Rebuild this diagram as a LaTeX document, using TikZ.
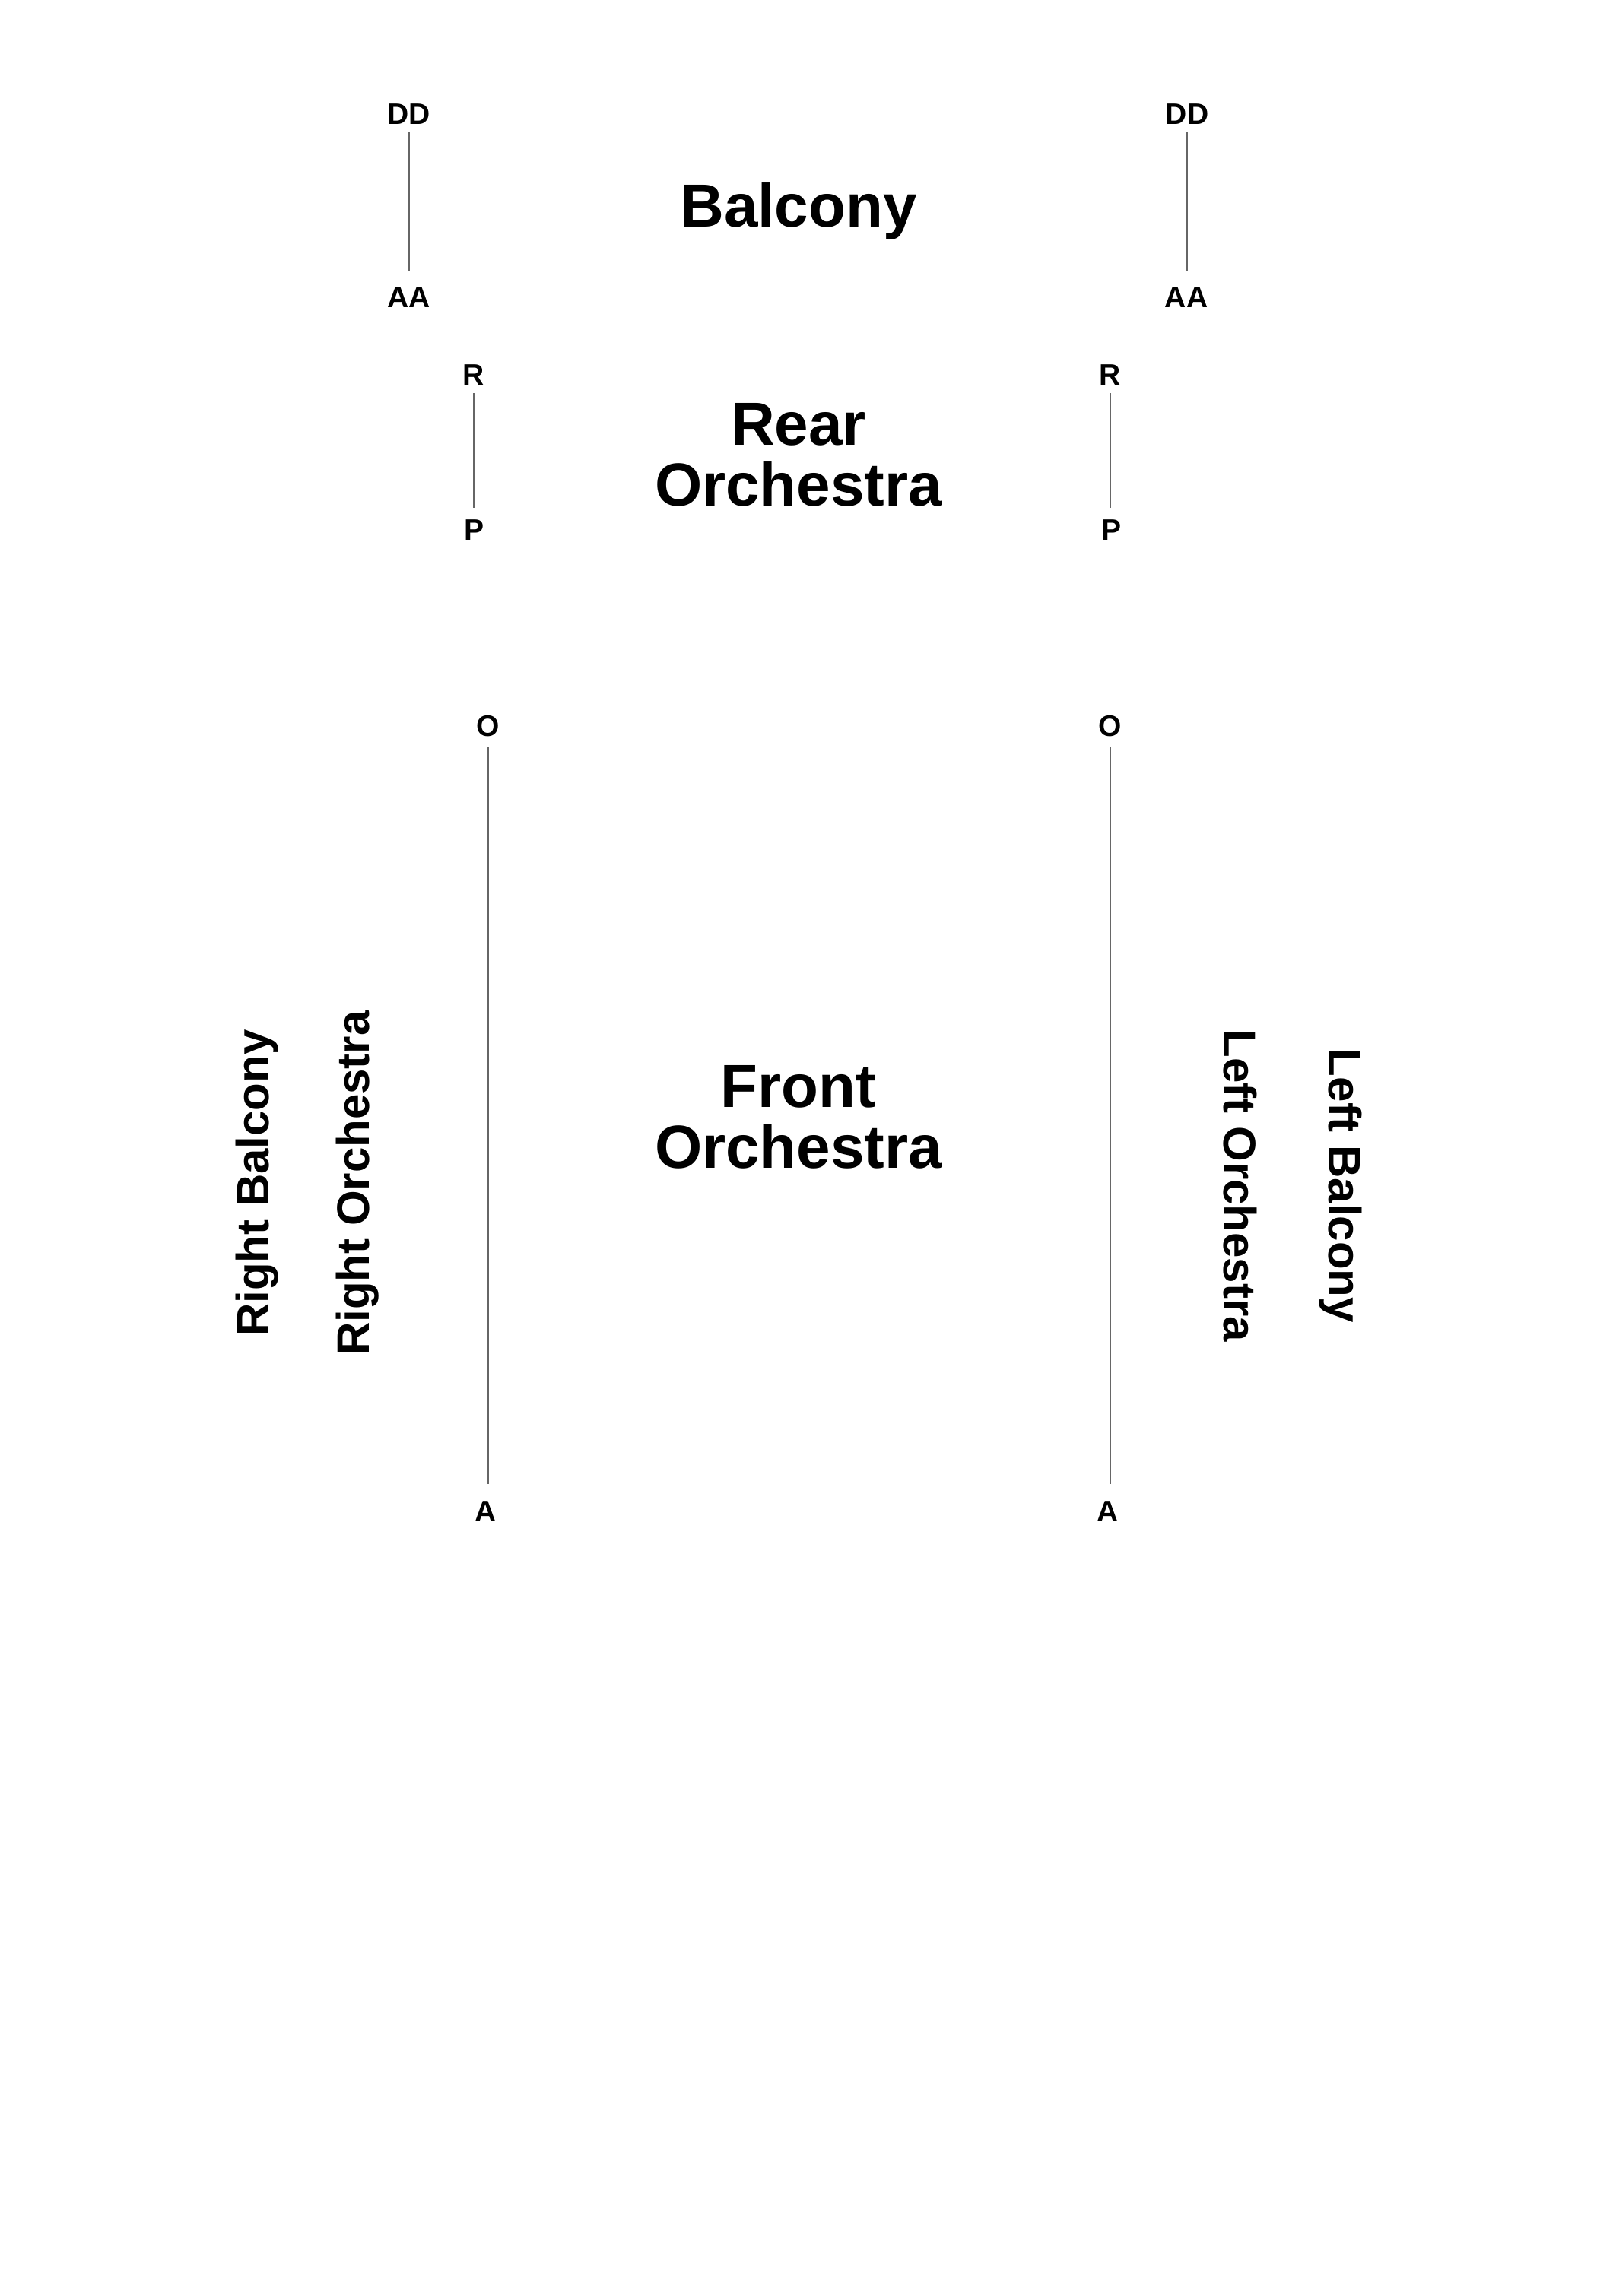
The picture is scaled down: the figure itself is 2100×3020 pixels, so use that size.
\documentclass[tikz,border=0pt]{standalone}
\usepackage{fontspec}
\setmainfont{Liberation Sans}
\begin{document}
\begin{tikzpicture}[x=1pt,y=-1pt,
  row/.style={font=\fontsize{39}{39}\selectfont\bfseries, inner sep=0pt, anchor=base},
  area/.style={font=\fontsize{80}{80}\selectfont\bfseries, inner sep=0pt, align=center, anchor=base},
  side/.style={font=\fontsize{60}{60}\selectfont\bfseries, inner sep=0pt},
  rowline/.style={line width=2pt, black!60}]
\useasboundingbox (0,0) rectangle (2100,3020);
% Balcony
\node[row] (DDl) at (538,163) {DD};
\node[row] (AAl) at (538,404) {AA};
\node[row] (DDr) at (1561,163) {DD};
\node[row] (AAr) at (1560,404) {AA};
\node[area] (balc) at (1050,298) {Balcony};
% Rear orchestra
\node[row] (Rl) at (623,506) {R};
\node[row] (Pl) at (623,710) {P};
\node[row] (Rr) at (1460,506) {R};
\node[row] (Pr) at (1461,710) {P};
\node[area] (rear) at (1050,665) {Rear\\Orchestra};
% Front orchestra
\node[row] (Ol) at (642,968) {O};
\node[row] (Al) at (639,2001) {A};
\node[row] (Or) at (1460,968) {O};
\node[row] (Ar) at (1457,2001) {A};
\node[area] (front) at (1050,1536) {Front\\Orchestra};
% side labels
\node[side, rotate=90] (rb) at (338,1556) {Right Balcony};
\node[side, rotate=90] (ro) at (470,1556) {Right Orchestra};
\node[side, rotate=-90] (lo) at (1631,1560) {Left Orchestra};
\node[side, rotate=-90] (lb) at (1763,1560) {Left Balcony};
% row lines
\draw[rowline, shorten <=11pt, shorten >=21pt] (DDl.south) -- (DDl.south |- AAl.north);
\draw[rowline, shorten <=11pt, shorten >=21pt] (DDr.south) -- (DDr.south |- AAr.north);
\draw[rowline, shorten <=11pt, shorten >=15pt] (Rl.south) -- (Rl.south |- Pl.north);
\draw[rowline, shorten <=11pt, shorten >=15pt] (Rr.south) -- (Rr.south |- Pr.north);
\draw[rowline, shorten <=14pt, shorten >=22pt] (Ol.south) -- (Ol.south |- Al.north);
\draw[rowline, shorten <=14pt, shorten >=22pt] (Or.south) -- (Or.south |- Ar.north);
\end{tikzpicture}
\end{document}
